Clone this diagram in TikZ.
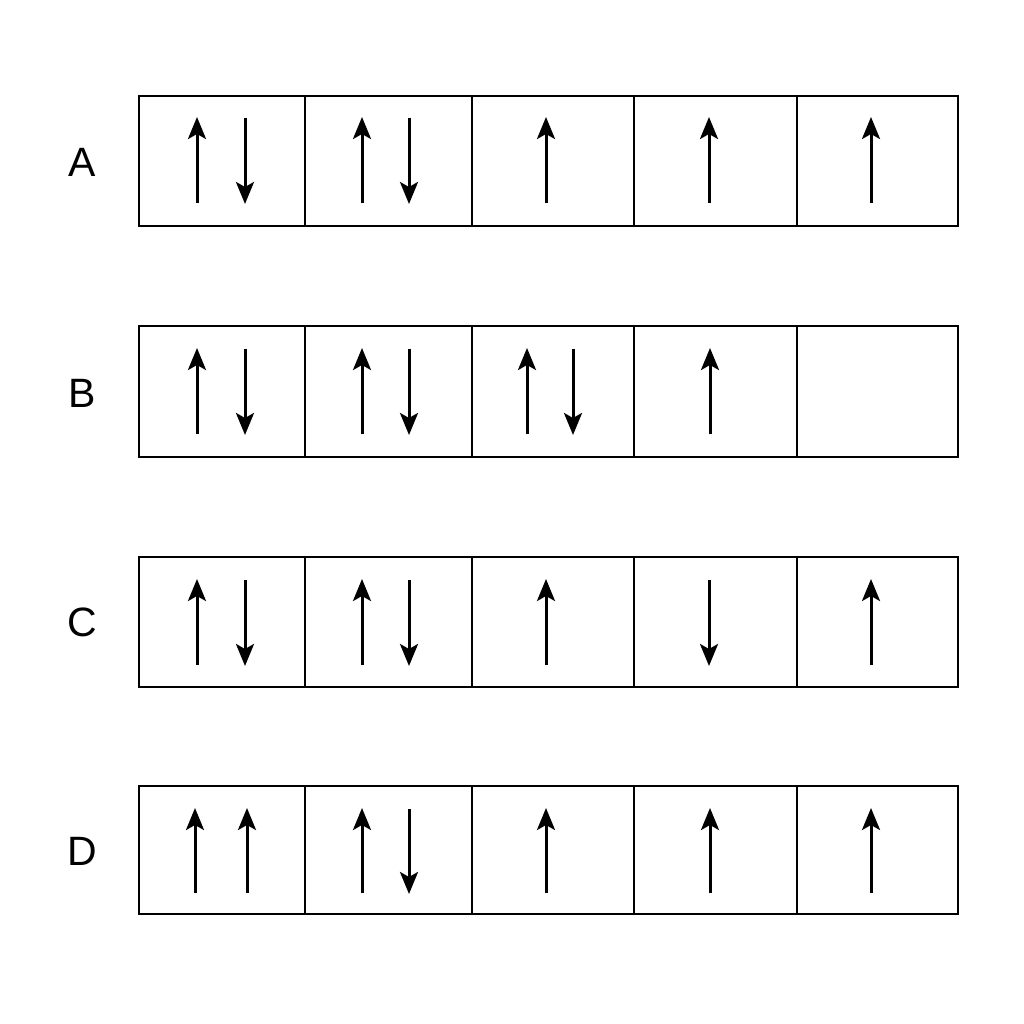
\documentclass[tikz,border=0pt]{standalone}
\usepackage{fontspec}
\setmainfont{Liberation Sans}
\usetikzlibrary{arrows.meta}
\begin{document}
\begin{tikzpicture}[x=1pt,y=-1pt,
  cell/.style={draw=black,line width=2.5pt},
  spin/.style={line width=3pt,-{Stealth[length=22pt,width=18pt,inset=5pt]}},
  lbl/.style={font=\fontsize{41}{41}\selectfont,inner sep=0pt}]
\useasboundingbox (0,0) rectangle (1024,1024);
% boxes
\foreach \r/\ya/\yb in {A/96/226,B/326/457,C/557/687,D/786/914}{
  \foreach \i/\xa/\xb in {1/139/305,2/305/472,3/472/634,4/634/797,5/797/958}{
    \node[cell,inner sep=0pt,minimum width={\xb-\xa},minimum height={\yb-\ya}] (\r\i) at ({(\xa+\xb)/2},{(\ya+\yb)/2}) {};
  }
}
% labels
\node[lbl] (lA) at (82,162) {A};
\node[lbl] (lB) at (82,393) {B};
\node[lbl] (lC) at (82,622) {C};
\node[lbl] (lD) at (82,851) {D};
% row A
\draw[spin] (197,203) -- (197,117);
\draw[spin] (245,118) -- (245,204);
\draw[spin] (362,203) -- (362,117);
\draw[spin] (409,118) -- (409,204);
\draw[spin] (546,203) -- (546,117);
\draw[spin] (709,203) -- (709,117);
\draw[spin] (871,203) -- (871,117);
% row B
\draw[spin] (197,434) -- (197,348);
\draw[spin] (245,349) -- (245,435);
\draw[spin] (362,434) -- (362,348);
\draw[spin] (409,349) -- (409,435);
\draw[spin] (527,434) -- (527,348);
\draw[spin] (573,349) -- (573,435);
\draw[spin] (710,434) -- (710,348);
% row C
\draw[spin] (197,665) -- (197,579);
\draw[spin] (245,580) -- (245,666);
\draw[spin] (362,665) -- (362,579);
\draw[spin] (409,580) -- (409,666);
\draw[spin] (546,665) -- (546,579);
\draw[spin] (709,580) -- (709,666);
\draw[spin] (871,665) -- (871,579);
% row D
\draw[spin] (195,893) -- (195,808);
\draw[spin] (247,893) -- (247,808);
\draw[spin] (362,893) -- (362,808);
\draw[spin] (409,809) -- (409,894);
\draw[spin] (546,893) -- (546,808);
\draw[spin] (710,893) -- (710,808);
\draw[spin] (871,893) -- (871,808);
\end{tikzpicture}
\end{document}
